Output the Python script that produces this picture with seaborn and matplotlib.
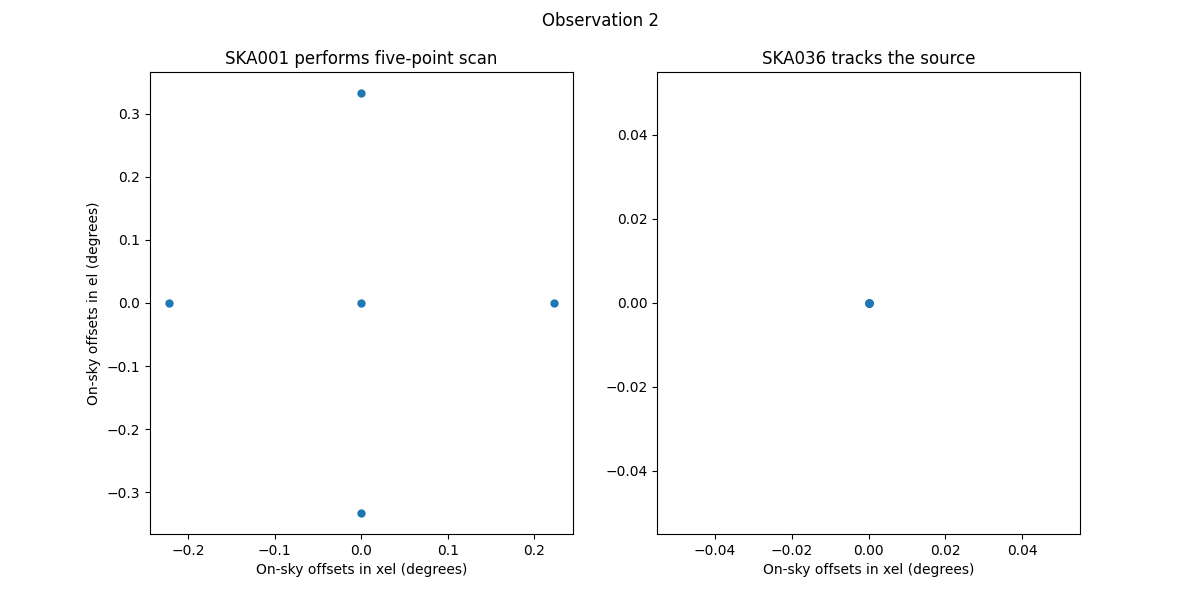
import matplotlib
matplotlib.use("Agg")
import matplotlib.pyplot as plt
import seaborn as sns
import pandas as pd

# SKA001 five-point scan offsets (degrees)
ska001_xel = [0.0, -0.222, 0.0, 0.222, 0.0]
ska001_el = [0.333, 0.0, 0.0, 0.0, -0.333]

# SKA036 tracks the source
ska036_xel = [0.0, 0.0, 0.0, 0.0, 0.0]
ska036_el = [0.0, 0.0, 0.0, 0.0, 0.0]

df1 = pd.DataFrame({"xel": ska001_xel, "el": ska001_el})
df2 = pd.DataFrame({"xel": ska036_xel, "el": ska036_el})

fig, (ax1, ax2) = plt.subplots(1, 2, figsize=(12, 6), dpi=100)

sns.scatterplot(data=df1, x="xel", y="el", ax=ax1, color="#1f77b4", s=36, linewidth=0)
ax1.set_title("SKA001 performs five-point scan")
ax1.set_xlabel("On-sky offsets in xel (degrees)")
ax1.set_ylabel("On-sky offsets in el (degrees)")

sns.scatterplot(data=df2, x="xel", y="el", ax=ax2, color="#1f77b4", s=36, linewidth=0)
ax2.set_title("SKA036 tracks the source")
ax2.set_xlabel("On-sky offsets in xel (degrees)")
ax2.set_ylabel("")
ax2.set_xlim(-0.055, 0.055)
ax2.set_ylim(-0.055, 0.055)

fig.suptitle("Observation 2")
fig.savefig("out.png")
